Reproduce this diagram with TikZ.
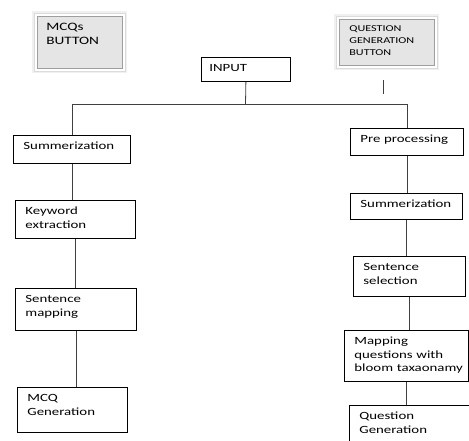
\documentclass[tikz,border=0pt]{standalone}
\usepackage{fontspec}
\usepackage{tikz}
\usetikzlibrary{shapes,positioning}
\newfontfamily\boxfont[FakeStretch=1.35]{Carlito}
\hyphenpenalty=10000
\exhyphenpenalty=10000
\tikzset{box/.style = {draw, rectangle, anchor = north west, align = left, line width = .8pt,
                       inner xsep = 10pt, inner ysep = 7pt, text height = 7.5pt,
                       font = \boxfont\fontsize{11}{13.5}\selectfont},
         btn/.style = {rectangle, anchor = north west, align = left, fill = black!10, draw = black!38,
                       line width = .7pt,
                       preaction = {draw = black!6, line width = 10pt},
                       preaction = {draw = black!14, line width = 7.5pt},
                       preaction = {draw = white, line width = 5pt}},
         link/.style = {draw = black!75, line width = .8pt},
}

\begin{document}
\begin{tikzpicture}[x = 1pt, y = -1pt]

  \useasboundingbox (0,0) rectangle (469,441);
  \clip (0,0) rectangle (469,441);

  \node[btn, inner xsep = 9pt, inner ysep = 7pt, text width = 67pt, text height = 7.5pt, text depth = 30.5pt,
        font = \boxfont\fontsize{11.3}{14}\selectfont] at (37,16) (mcqbtn) {MCQs\\BUTTON};
  \node[btn, inner xsep = 10pt, inner ysep = 6pt, text width = 75pt, text height = 6pt, text depth = 28pt,
        font = \boxfont\fontsize{9}{12}\selectfont] at (339,19) (qgbtn) {QUESTION\\GENERATION\\BUTTON};

  \node[box, inner xsep = 8pt, text width = 73pt, text depth = 2.5pt] at (201,57) (input) {INPUT};

  \node[box, text width = 97pt, text depth = 6.5pt] at (13,135) (sumL) {Summerization};
  \node[box, text width = 100pt, text depth = 16.5pt] at (15,200) (keyL) {Keyword\\extraction};
  \node[box, text width = 101pt, text depth = 20.5pt] at (15,288) (mapL) {Sentence\\mapping};
  \node[box, text width = 90pt, text depth = 23.5pt] at (17,387) (mcqL) {MCQ\\Generation};

  \node[box, text width = 93pt, text depth = 5.5pt] at (350,128) (pre) {Pre processing};
  \node[box, text width = 92pt, text depth = 4.5pt] at (350,193) (sumR) {Summerization};
  \node[box, text width = 92pt, text depth = 18.5pt] at (353,256) (selR) {Sentence\\selection};
  \node[box, text width = 104pt, text depth = 29.5pt] at (344,330) (bloomR) {Mapping\\questions with\\\mbox{bloom taxaonamy}};
  \node[box, text width = 110pt, text depth = 23.5pt] at (349,405) (qgR) {Question\\Generation};

  \coordinate (split) at (245.5,104);
  \coordinate (stubtop) at (383,80);
  \coordinate (stubbot) at (383,94);

  \draw[link] (input.south) -- (split);
  \draw[link] (split) -| (sumL.north);
  \draw[link] (split) -| (pre.north);
  \draw[link] (stubtop) -- (stubbot);

  \draw[link] (sumL.south) -- (sumL.south |- keyL.north);
  \draw[link] (keyL.south) -- (keyL.south |- mapL.north);
  \draw[link] (mapL.south) -- (mapL.south |- mcqL.north);

  \draw[link] (pre.south) -- (pre.south |- sumR.north);
  \draw[link] (sumR.south) -- (sumR.south |- selR.north);
  \draw[link] (selR.south) -- (selR.south |- bloomR.north);
  \draw[link] (bloomR.south) -- (bloomR.south |- qgR.north);

\end{tikzpicture}
\end{document}
